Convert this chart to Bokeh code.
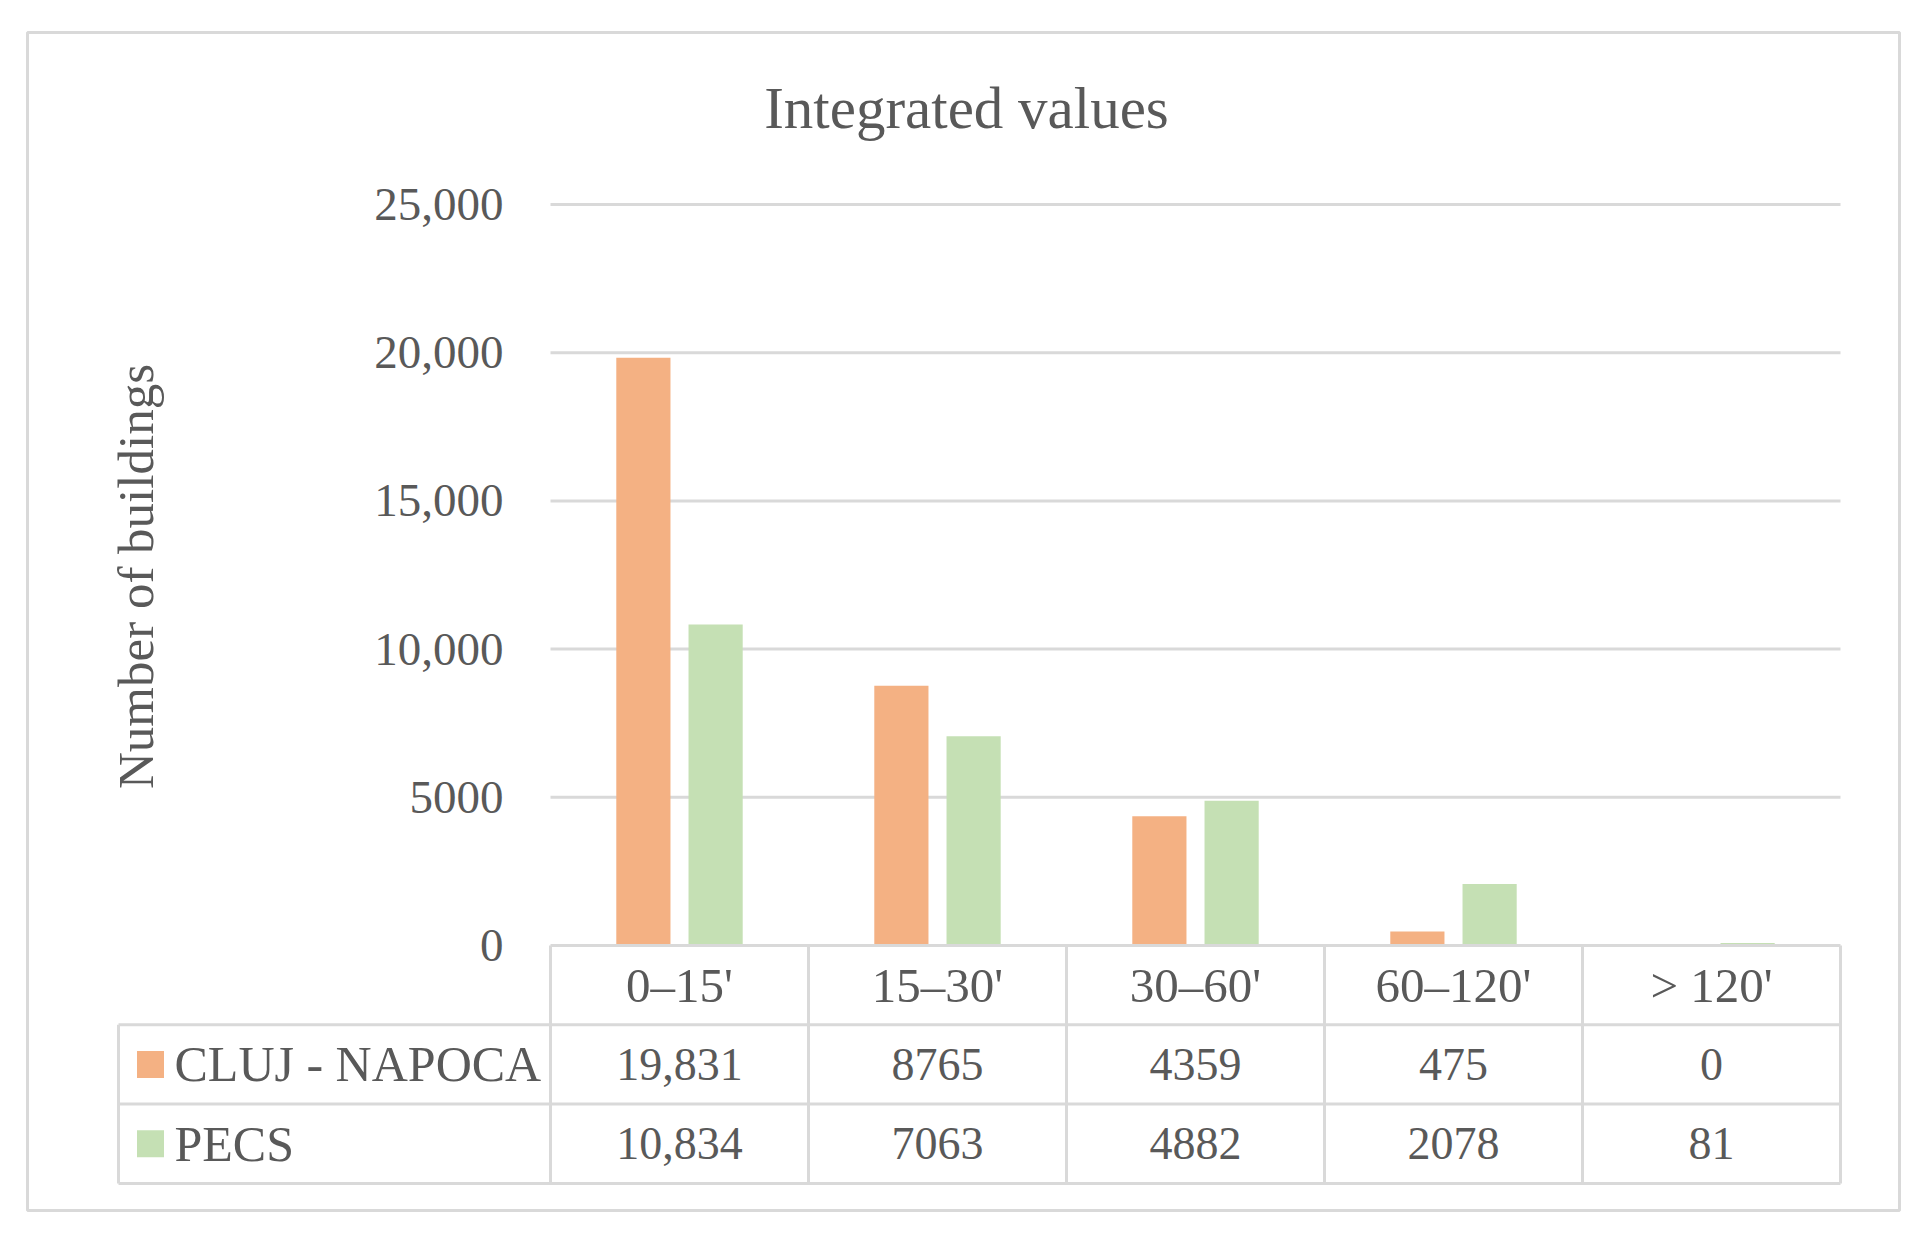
from math import pi

from bokeh.plotting import figure
from bokeh.models import ColumnDataSource, LinearAxis, FixedTicker, Range1d
from bokeh.core.properties import value
from bokeh.transform import dodge
from bokeh.embed import file_html
from bokeh.resources import INLINE

# data
categories = ["0–15'", "15–30'", "30–60'", "60–120'", "> 120'"]
cluj = [19831, 8765, 4359, 475, 0]
pecs = [10834, 7063, 4882, 2078, 81]
series_names = ["CLUJ - NAPOCA", "PECS"]
y_ticks = [0, 5000, 10000, 15000, 20000, 25000]
y_tick_labels = ["0", "5000", "10,000", "15,000", "20,000", "25,000"]

ORANGE = "#F4B183"
GREEN = "#C5E0B4"
TEXT = "#595959"
LINE = "#D9D9D9"
FONT = "Liberation Serif"

# layout in canvas pixels
W, H = 1915, 1225
BOX_L, BOX_R, BOX_T, BOX_B = 27, 1899, 32, 1210
PLOT_L, PLOT_R = 550, 1840
ZERO_Y, TOP_Y = 945, 204
ROW_H = 79.3
TABLE_L = 118

n = len(categories)
unit = (PLOT_R - PLOT_L) / n
ppu = (ZERO_Y - TOP_Y) / y_ticks[-1]


def xpx(px):
    return (px - PLOT_L) / unit


def ypx(py):
    return (ZERO_Y - py) / ppu


p = figure(width=W, height=H, output_backend="svg", toolbar_location=None,
           x_axis_type=None, y_axis_type=None,
           x_range=Range1d(xpx(BOX_L), xpx(BOX_R)),
           y_range=Range1d(ypx(BOX_B), ypx(BOX_T)),
           min_border_left=BOX_L, min_border_right=W - BOX_R,
           min_border_top=BOX_T, min_border_bottom=H - BOX_B)
p.extra_y_ranges = {"tbl": Range1d(-(BOX_B - ZERO_Y) / ROW_H, (ZERO_Y - BOX_T) / ROW_H)}
p.outline_line_color = LINE
p.outline_line_width = 3
p.background_fill_color = "white"
p.border_fill_color = "white"

# y axis sitting on the left edge of the plot area
yaxis = LinearAxis(fixed_location=0, ticker=FixedTicker(ticks=y_ticks))
yaxis.major_label_overrides = dict(zip(y_ticks, y_tick_labels))
yaxis.axis_line_color = None
yaxis.major_tick_line_color = None
yaxis.minor_tick_line_color = None
yaxis.major_label_standoff = 41
yaxis.major_label_text_font = FONT
yaxis.major_label_text_font_size = "47px"
yaxis.major_label_text_color = TEXT
p.add_layout(yaxis, "left")

# gridlines across the plot area only
p.segment(x0=0, x1=n, y0=y_ticks[1:], y1=y_ticks[1:], line_color=LINE, line_width=3)

# bars
centers = [i + 0.5 for i in range(n)]
src = ColumnDataSource(data=dict(x=centers, cluj=cluj, pecs=pecs))
p.vbar(x=dodge("x", -0.14, range=p.x_range), top="cluj", width=0.21, bottom=0,
       source=src, fill_color=ORANGE, line_color=None)
p.vbar(x=dodge("x", 0.14, range=p.x_range), top="pecs", width=0.21, bottom=0,
       source=src, fill_color=GREEN, line_color=None)

# data table below the axis
tl = xpx(TABLE_L)
hx0 = [0, tl, tl, tl]
hx1 = [n] * 4
hy = [0, -1, -2, -3]
p.segment(x0=hx0, x1=hx1, y0=hy, y1=hy, y_range_name="tbl", line_color=LINE, line_width=3)
vx = [tl] + list(range(n + 1))
vy0 = [-1] + [0] * (n + 1)
p.segment(x0=vx, x1=vx, y0=vy0, y1=[-3] * len(vx), y_range_name="tbl",
          line_color=LINE, line_width=3)


def fmt(v):
    return f"{v:,}" if v >= 10000 else str(v)


cell_style = dict(text_font=value(FONT), text_color=TEXT, text_align="center",
                  text_baseline="middle", y_range_name="tbl")
p.text(x=centers, y=[-0.5] * n, text=categories, text_font_size="49px", **cell_style)
p.text(x=centers, y=[-1.5] * n, text=[fmt(v) for v in cluj], text_font_size="46px", **cell_style)
p.text(x=centers, y=[-2.5] * n, text=[fmt(v) for v in pecs], text_font_size="46px", **cell_style)

# legend keys in the first column
p.scatter(x=[xpx(150)] * 2, y=[-1.5, -2.5], marker="square", size=27,
          fill_color=[ORANGE, GREEN], line_color=None, y_range_name="tbl")
p.text(x=[xpx(174)] * 2, y=[-1.5, -2.5], text=series_names,
       text_font=value(FONT), text_font_size="50px", text_color=TEXT,
       text_align="left", text_baseline="middle", y_range_name="tbl")

# title and axis label
p.text(x=[xpx(966)], y=[ypx(107)], text=["Integrated values"],
       text_font=value(FONT), text_font_size="59px", text_color=TEXT,
       text_align="center", text_baseline="middle")
p.text(x=[xpx(135)], y=[ypx(576)], text=["Number of buildings"], angle=pi / 2,
       text_font=value(FONT), text_font_size="51px", text_color=TEXT,
       text_align="center", text_baseline="middle")

open("out.html", "w").write(file_html(p, INLINE))
